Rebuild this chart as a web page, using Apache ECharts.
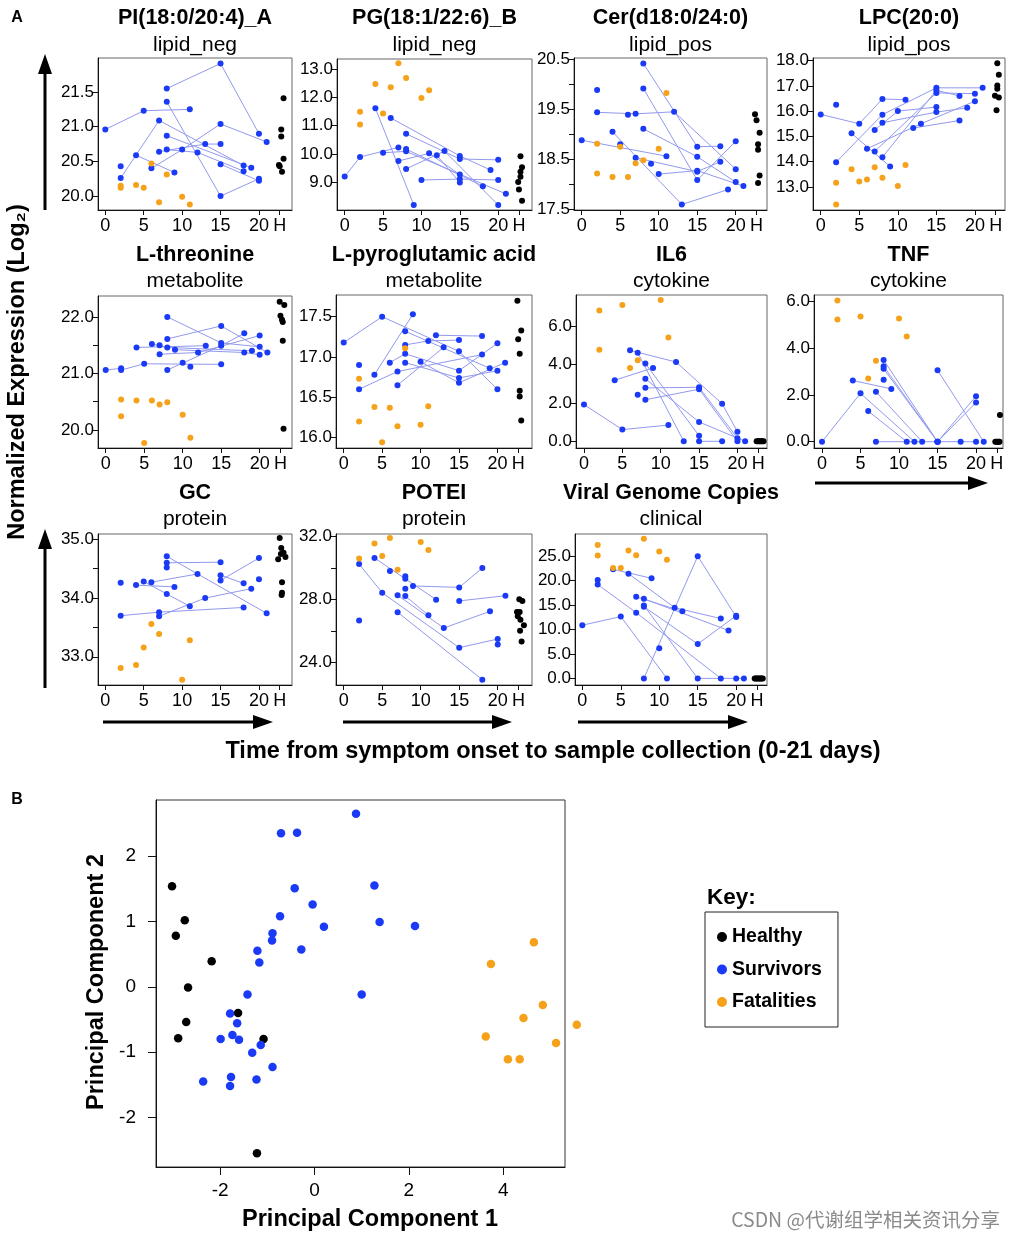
<!DOCTYPE html>
<html><head><meta charset="utf-8">
<script src="https://cdn.jsdelivr.net/npm/echarts@6/dist/echarts.min.js"></script>
<style>html,body{margin:0;padding:0;background:#fff}#c{width:1015px;height:1239px}</style>
</head><body><div id="c"></div><script>
// ---------- DATA ----------
const panelTitles = ['PI(18:0/20:4)_A','PG(18:1/22:6)_B','Cer(d18:0/24:0)','LPC(20:0)','L-threonine','L-pyroglutamic acid','IL6','TNF','GC','POTEI','Viral Genome Copies'];
const panelTypes = ['lipid_neg','lipid_neg','lipid_pos','lipid_pos','metabolite','metabolite','cytokine','cytokine','protein','protein','clinical'];
const xTickValues = [0,5,10,15,20,22.7];
const xTickLabels = ['0','5','10','15','20','H'];

// survivor trajectories: [day, value] per sample, one array per patient
const traj1 = [[[0,20.96],[5,21.23],[11,21.25]],[[8,21.55],[15,21.91],[20,20.90]],[[8,21.36],[15,20.00],[20,20.25]],[[2,20.26],[7,21.09],[18,20.44]],[[4,20.59],[9,20.34]],[[8,20.87],[19,20.41]],[[6,20.40],[10,20.67],[15,21.04],[21,20.78]],[[7,20.64],[13,20.75],[15,20.75]],[[8,20.67],[12,20.63],[18,20.36]],[[15,20.46],[20,20.22]],[[2,20.43]]];
const fatal1 = [[2,20.15],[2,20.12],[4,20.16],[5,20.12],[6,20.47],[7,19.91],[8,20.31],[10,19.99],[11,19.88]];
const healthy1 = [[23.2,21.41],[22.9,20.96],[22.9,20.86],[23.2,20.54],[22.6,20.45],[22.7,20.43],[23.0,20.35]];

const traj2 = [[[0,9.20],[2,9.89],[7,10.23]],[[4,11.61],[9,8.20]],[[6,11.27],[15,9.93],[19,9.43]],[[8,10.71],[15,9.82],[20,9.79]],[[5,10.04],[8,10.09],[21,8.59]],[[8,10.17],[18,8.86]],[[7,9.75],[11,10.02],[15,9.27]],[[8,9.47],[13,10.10],[20,8.20]],[[10,9.08],[15,9.11],[20,9.08]],[[12,9.95],[15,8.99]]];
const fatal2 = [[2,11.49],[2,11.04],[4,12.47],[5,11.43],[6,12.35],[7,13.20],[8,12.68],[10,11.97],[11,12.25]];
const healthy2 = [[22.9,9.92],[23.1,9.53],[22.9,9.37],[22.9,9.19],[22.6,9.01],[22.7,8.74],[23.1,8.35]];

const traj3 = [[[0,18.88],[11,18.56]],[[2,19.44],[7,19.41],[12,19.45],[20,18.30]],[[4,19.05],[13,17.59],[19,17.89]],[[8,20.42],[15,18.75],[18,18.76]],[[8,19.92],[15,18.08],[20,18.86]],[[8,19.11],[15,18.55],[20,18.04]],[[10,18.20],[15,18.27],[21,17.96]],[[7,18.53],[15,18.25],[18,18.45]],[[2,19.89]],[[5,18.80]],[[6,19.39]],[[9,18.41]]];
const fatal3 = [[2,18.81],[2,18.21],[4,18.14],[5,18.75],[6,18.14],[7,18.42],[8,18.48],[10,18.71],[11,19.83]];
const healthy3 = [[22.5,19.40],[22.7,19.28],[23.1,19.03],[22.9,18.80],[22.9,18.69],[23.1,18.17],[22.9,18.02]];

const traj4 = [[[0,15.87],[5,15.50],[8,16.48],[11,16.45]],[[2,13.98],[8,15.86],[15,16.92],[21,16.92]],[[4,15.12],[9,13.81]],[[6,14.51],[13,15.50],[20,16.39]],[[7,14.40],[15,16.72],[20,16.69]],[[8,14.18],[15,16.82],[18,16.60]],[[8,15.54],[15,15.96],[19,16.13]],[[7,15.25],[10,16.00],[15,16.16]],[[12,15.33],[18,15.63]],[[2,16.25]]];
const fatal4 = [[2,13.17],[2,12.31],[4,13.70],[5,13.22],[6,13.30],[7,13.78],[8,13.37],[10,13.04],[11,13.87]];
const healthy4 = [[22.9,17.89],[23.1,17.44],[22.9,17.01],[22.9,16.88],[22.6,16.61],[23.1,16.54],[22.8,16.03]];

const traj5 = [[[0,21.06],[2,21.09]],[[2,21.06],[5,21.17],[15,21.16]],[[4,21.46],[13,21.49]],[[8,22.00],[15,21.54],[20,21.47]],[[8,21.61],[15,21.84],[21,21.37]],[[8,21.06],[15,21.49],[18,21.71]],[[7,21.34],[12,21.37],[20,21.67]],[[6,21.52],[8,21.46],[19,21.40]],[[9,21.42],[18,21.37],[20,21.33]],[[7,21.50]],[[10,21.19]],[[11,21.12]]];
const fatal5 = [[2,20.54],[2,20.24],[4,20.52],[5,19.77],[6,20.52],[7,20.45],[8,20.49],[10,20.27],[11,19.86]];
const healthy5 = [[22.6,22.27],[23.2,22.21],[22.7,22.02],[22.9,21.95],[23.0,21.91],[23.0,21.58],[23.1,20.02]];

const traj6 = [[[0,17.18],[5,17.50],[15,17.07],[20,16.60]],[[4,16.78],[9,17.53]],[[2,16.60],[7,16.82],[18,17.03]],[[6,16.93],[8,17.04],[15,16.83],[20,17.17]],[[8,17.32],[19,16.86]],[[8,17.15],[11,17.20],[15,17.21]],[[12,17.27],[18,17.26]],[[8,16.93],[15,16.74],[20,16.83]],[[7,16.65],[13,17.12]],[[10,16.94],[15,16.68],[21,16.93]],[[2,16.90]]];
const fatal6 = [[2,16.73],[2,16.20],[4,16.38],[5,15.94],[6,16.37],[7,16.14],[8,17.11],[10,16.16],[11,16.39]];
const healthy6 = [[22.6,17.70],[23.1,17.33],[22.7,17.22],[22.9,17.04],[22.9,16.58],[22.9,16.51],[23.1,16.21]];

const traj7 = [[[0,1.92],[5,0.61],[11,0.85]],[[4,3.19],[9,3.83]],[[6,4.75],[12,4.14],[18,1.96],[20,0.50]],[[7,4.63],[13,0]],[[8,2.79],[15,2.82],[20,0.16]],[[8,2.17],[15,2.72],[20,0]],[[8,4.06],[15,0.29]],[[8,3.26],[15,1.01],[21,0]],[[15,0],[18,0]],[[7,2.43]]];
const fatal7 = [[2,6.83],[2,4.78],[5,7.12],[6,3.83],[7,4.23],[10,7.38],[11,5.42]];
const healthy7 = [[22.5,0],[22.65,0],[22.8,0],[22.95,0],[23.1,0],[23.25,0],[23.4,0]];

const traj8 = [[[0,0],[5,2.07],[12,0]],[[4,2.62],[9,2.26]],[[6,1.31],[11,0]],[[7,2.14],[13,0]],[[8,3.50],[15,0],[20,1.95]],[[8,3.23],[15,0],[20,1.68]],[[8,3.12],[15,0]],[[15,3.06],[21,0]],[[7,0],[15,0],[18,0],[20,0]],[[8,2.65]]];
const fatal8 = [[2,6.04],[2,5.23],[5,5.36],[6,2.71],[7,3.46],[10,5.27],[11,4.50]];
const healthy8 = [[23.1,1.14],[22.5,0],[22.65,0],[22.8,0],[22.95,0],[23.05,0]];

const traj9 = [[[2,33.70],[7,33.76],[18,33.84]],[[4,34.22],[9,34.19]],[[5,34.28],[11,33.86]],[[6,34.27],[12,34.41]],[[8,34.71],[21,33.74]],[[8,34.60],[15,34.61]],[[7,33.69],[13,34.00],[19,34.16]],[[15,34.30],[20,34.68]],[[15,34.39],[18,34.25]],[[2,34.26]],[[8,34.07]],[[8,34.52]],[[20,34.32]]];
const fatal9 = [[2,32.81],[4,32.86],[5,33.16],[6,33.56],[7,33.39],[10,32.61],[11,33.28]];
const healthy9 = [[22.7,35.02],[22.9,34.85],[23.2,34.77],[22.85,34.75],[23.45,34.70],[22.5,34.66],[23.0,34.27],[23.0,34.09],[22.95,34.05]];

const traj10 = [[[2,30.26],[5,28.44],[15,24.95],[20,25.50]],[[4,30.65],[12,28.00]],[[9,28.87],[15,28.78],[18,30.01]],[[7,27.20],[18,22.92]],[[7,28.28],[13,26.20],[19,27.26]],[[15,27.92],[21,28.25]],[[8,28.23],[11,27.01]],[[2,26.67]],[[6,29.82]],[[8,29.48]],[[8,29.33]],[[8,28.70]],[[20,25.16]]];
const fatal10 = [[2,30.62],[4,31.56],[5,30.77],[6,31.92],[7,29.90],[10,31.66],[11,31.15]];
const healthy10 = [[22.8,28.02],[23.2,27.92],[22.5,27.22],[22.85,27.22],[22.6,26.94],[22.95,26.73],[23.4,26.37],[22.9,26.03],[23.1,25.35]];

const traj11 = [[[0,10.85],[5,12.60],[11,0]],[[4,22.24],[9,20.42]],[[6,21.36],[12,14.42],[18,12.20]],[[2,19.14],[7,13.41],[18,0]],[[7,16.64],[13,13.68]],[[8,16.24],[19,9.77]],[[8,14.89],[15,0],[21,0]],[[8,14.62],[15,7.01],[20,12.80]],[[8,0],[15,24.93],[20,12.53]],[[2,20.08]],[[10,6.13]],[[20,0]]];
const fatal11 = [[2,27.22],[2,25.07],[4,22.51],[5,22.51],[6,26.08],[7,25.13],[8,28.50],[10,25.88],[11,24.19]];
const healthy11 = [[22.4,0],[22.55,0],[22.7,0],[22.85,0],[23.0,0],[23.15,0],[23.3,0],[23.45,0]];

// y tick labels and tick positions per panel
const yLabels = [[20.0,20.5,21.0,21.5],[9,10,11,12,13],[17.5,18.5,19.5,20.5],[13,14,15,16,17,18],[20,21,22],[16.0,16.5,17.0,17.5],[0,2,4,6],[0,2,4,6],[33,34,35],[24,28,32],[0,5,10,15,20,25]];
const yTicks = [[20.0,20.5,21.0,21.5],[9,10,11,12,13],[17.5,18,18.5,19,19.5,20,20.5],[13,14,15,16,17,18],[20,20.5,21,21.5,22],[16.0,16.5,17.0,17.5],[0,2,4,6],[0,2,4,6],[33,33.5,34,34.5,35],[24,26,28,30,32],[0,5,10,15,20,25]];

// PCA (panel B)
const pcaHealthy = [[-3.02,1.54],[-2.94,0.78],[-2.75,1.02],[-2.18,0.39],[-2.68,-0.01],[-2.72,-0.54],[-2.89,-0.79],[-1.62,-0.40],[-1.08,-0.80],[-1.22,-2.55]];
const pcaSurvivors = [[0.88,2.65],[-0.71,2.35],[-0.37,2.36],[-0.42,1.51],[1.27,1.55],[-0.04,1.26],[-0.73,1.08],[0.20,0.92],[1.38,0.99],[2.13,0.93],[-0.89,0.82],[-0.90,0.71],[-0.28,0.57],[-1.21,0.55],[-1.17,0.37],[-1.42,-0.12],[1.00,-0.12],[-1.79,-0.41],[-1.64,-0.56],[-1.74,-0.74],[-1.99,-0.80],[-1.60,-0.81],[-1.14,-0.89],[-1.32,-1.01],[-0.89,-1.23],[-1.77,-1.38],[-1.23,-1.42],[-2.36,-1.45],[-1.79,-1.52]];
const pcaFatalities = [[4.65,0.68],[3.74,0.35],[4.84,-0.28],[4.43,-0.48],[5.56,-0.58],[3.63,-0.76],[5.12,-0.86],[4.10,-1.11],[4.35,-1.11]];
const pcaXTicks = [-2,0,2,4];
const pcaYTicks = [-2,-1,0,1,2];

// ---------- LAYOUT / STYLE ----------
const FONT = '"Liberation Sans", Arial, sans-serif';
const BLUE = '#1a3af5', ORANGE = '#f5a21a', LINEC = '#9299ee';
const trajs = [traj1,traj2,traj3,traj4,traj5,traj6,traj7,traj8,traj9,traj10,traj11];
const fatals = [fatal1,fatal2,fatal3,fatal4,fatal5,fatal6,fatal7,fatal8,fatal9,fatal10,fatal11];
const healthies = [healthy1,healthy2,healthy3,healthy4,healthy5,healthy6,healthy7,healthy8,healthy9,healthy10,healthy11];
// grid boxes [left, top, width, height], x range, y range
const boxes = [
 [98,58,194,152,-0.95,24.3,19.80,21.99],
 [337,59,195,151,-1.0,24.4,8.02,13.35],
 [574,58,193,152,-1.0,24.06,17.48,20.53],
 [813,58,192,152,-1.0,23.9,12.09,18.1],
 [98,296,194,152,-1.0,24.2,19.68,22.37],
 [336,295,196,153,-1.0,24.5,15.87,17.77],
 [576,295,191,153,-1.04,23.85,-0.35,7.64],
 [814,295,189,153,-1.04,23.5,-0.27,6.28],
 [98,534,194,151,-0.95,24.3,32.52,35.09],
 [336,534,196,151,-1.0,24.45,22.58,32.17],
 [575,534,192,151,-0.95,24.0,-1.35,29.45]
];
const titleRowY = [[18,45],[18,45],[18,45],[18,45],[255,281],[255,281],[255,281],[255,281],[493,519],[493,519],[493,519]];

const grids = [], xAxes = [], yAxes = [], series = [], graphics = [];
boxes.forEach((b,i) => {
  grids.push({left:b[0], top:b[1], width:b[2], height:b[3], show:true, borderColor:'#666', borderWidth:1, containLabel:false});
  xAxes.push({type:'value', gridIndex:i, min:b[4], max:b[5],
    axisLine:{show:true,onZero:false,lineStyle:{color:'#111',width:1}},
    axisTick:{show:true,length:5,customValues:xTickValues,lineStyle:{color:'#111'}},
    axisLabel:{customValues:xTickValues, formatter:v=>xTickLabels[xTickValues.indexOf(v)] ?? '', fontSize:18, color:'#000', fontFamily:FONT, margin:7},
    splitLine:{show:false}});
  yAxes.push({type:'value', gridIndex:i, min:b[6], max:b[7],
    axisLine:{show:true,onZero:false,lineStyle:{color:'#111',width:1}},
    axisTick:{show:true,length:5,customValues:yTicks[i],lineStyle:{color:'#111'}},
    axisLabel:{customValues:yLabels[i], formatter:v=>Number(v).toFixed(1), fontSize:17, color:'#000', fontFamily:FONT, margin:4},
    splitLine:{show:false}});
  trajs[i].filter(t=>t.length>1).forEach(t => series.push({type:'line', xAxisIndex:i, yAxisIndex:i, data:t, showSymbol:false, symbol:'none', silent:true, lineStyle:{color:LINEC,width:1}, z:1, animation:false}));
  series.push({type:'scatter', name:'s'+i, xAxisIndex:i, yAxisIndex:i, data:trajs[i].flat(), symbolSize:6, itemStyle:{color:BLUE, opacity:1}, z:3, silent:true, animation:false});
  series.push({type:'scatter', name:'f'+i, xAxisIndex:i, yAxisIndex:i, data:fatals[i], symbolSize:6, itemStyle:{color:ORANGE, opacity:1}, z:3, silent:true, animation:false});
  series.push({type:'scatter', name:'h'+i, xAxisIndex:i, yAxisIndex:i, data:healthies[i], symbolSize:6, itemStyle:{color:'#000', opacity:1}, z:3, silent:true, animation:false});
  const cx = b[0] + b[2]/2;
  graphics.push({type:'text', x:cx, y:titleRowY[i][0], style:{text:panelTitles[i], font:'bold 21.5px '+FONT, fill:'#000', textAlign:'center', textVerticalAlign:'middle', verticalAlign:'middle'}});
  graphics.push({type:'text', x:cx, y:titleRowY[i][1], style:{text:panelTypes[i], font:'21px '+FONT, fill:'#000', textAlign:'center', textVerticalAlign:'middle', verticalAlign:'middle'}});
});

// PCA grid
const pi = boxes.length;
grids.push({left:156, top:800, width:409, height:367, show:true, borderColor:'#333', borderWidth:1});
xAxes.push({type:'value', gridIndex:pi, min:-3.36, max:5.31,
  axisLine:{show:true,onZero:false,lineStyle:{color:'#111'}},
  axisTick:{show:true,length:8,customValues:pcaXTicks,lineStyle:{color:'#111'}},
  axisLabel:{customValues:pcaXTicks, fontSize:19, color:'#000', fontFamily:FONT, margin:14},
  splitLine:{show:false}});
yAxes.push({type:'value', gridIndex:pi, min:-2.76, max:2.86,
  axisLine:{show:true,onZero:false,lineStyle:{color:'#111'}},
  axisTick:{show:true,length:8,customValues:pcaYTicks,lineStyle:{color:'#111'}},
  axisLabel:{customValues:pcaYTicks, fontSize:19, color:'#000', fontFamily:FONT, margin:20},
  splitLine:{show:false}});
[['Healthy',pcaHealthy,'#000'],['Survivors',pcaSurvivors,BLUE],['Fatalities',pcaFatalities,ORANGE]].forEach(s => {
  series.push({type:'scatter', name:s[0], xAxisIndex:pi, yAxisIndex:pi, data:s[1], symbolSize:8.5, itemStyle:{color:s[2], opacity:1}, clip:false, z:3, animation:false});
});

// decorations: arrows and texts
function arrow(x1,y1,x2,y2){
  const dx=x2-x1, dy=y2-y1, L=Math.hypot(dx,dy), ux=dx/L, uy=dy/L, hl=20, hw=7;
  const bx=x2-ux*hl, by=y2-uy*hl;
  graphics.push({type:'line', shape:{x1:x1,y1:y1,x2:bx+ux*2,y2:by+uy*2}, style:{stroke:'#000', lineWidth:3}});
  graphics.push({type:'polygon', shape:{points:[[x2,y2],[bx-uy*hw,by+ux*hw],[bx+uy*hw,by-ux*hw]]}, style:{fill:'#000'}});
}
arrow(45,210,45,54);
arrow(45,688,45,529);
arrow(815,483,988,483);
arrow(103,722,273,722);
arrow(343,722,512,722);
arrow(578,722,748,722);
const txt = (t,x,y,font,opts={}) => graphics.push(Object.assign({type:'text', x:x, y:y, style:Object.assign({text:t, font:font, fill:'#000', textAlign:'center', textVerticalAlign:'middle', verticalAlign:'middle'}, opts.style||{})}, opts.el||{}));
txt('A',17,18,'bold 16px '+FONT);
txt('B',17,800,'bold 16px '+FONT);
txt('Normalized Expression (Log₂)',18,372,'bold 23.5px '+FONT,{el:{rotation:Math.PI/2}});
txt('Time from symptom onset to sample collection (0-21 days)',553,752,'bold 23.5px '+FONT);
txt('Principal Component 1',370,1220,'bold 23.5px '+FONT);
txt('Principal Component 2',97,982,'bold 23.5px '+FONT,{el:{rotation:Math.PI/2}});
txt('Key:',707,898,'bold 22.5px '+FONT,{style:{textAlign:'left'}});
txt('CSDN @代谢组学相关资讯分享',1000,1220,'19.5px "Noto Sans CJK SC", sans-serif',{style:{textAlign:'right', fill:'#8a8a8a'}});

const chart = echarts.init(document.getElementById('c'), null, {renderer:'canvas'});
chart.setOption({
  animation:false,
  backgroundColor:'#fff',
  grid:grids, xAxis:xAxes, yAxis:yAxes, series:series, graphic:graphics,
  legend:{data:['Healthy','Survivors','Fatalities'], orient:'vertical', left:705, top:912, icon:'circle', itemWidth:10, itemHeight:10, itemGap:12.5,
    padding:[15,16,15,12], borderColor:'#222', borderWidth:1, selectedMode:false,
    textStyle:{fontSize:19.5, fontWeight:'bold', color:'#000', fontFamily:FONT}}
});
</script></body></html>
